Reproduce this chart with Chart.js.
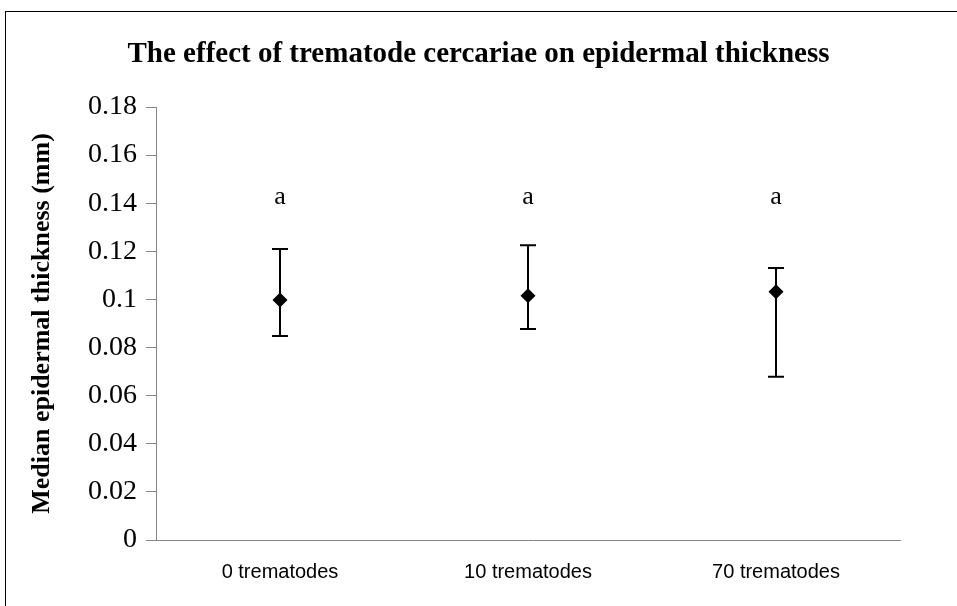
<!DOCTYPE html>
<html>
<head>
<meta charset="utf-8">
<script src="https://cdn.jsdelivr.net/npm/chart.js@4.4.0/dist/chart.umd.min.js"></script>
<style>
  html, body { margin: 0; padding: 0; background: #fff; overflow: hidden; }
  #wrap { position: relative; width: 957px; height: 606px; }
  #frame {
    position: absolute; left: 5px; top: 11px; width: 1000px; height: 700px;
    border: 1px solid #000; pointer-events: none;
  }
</style>
</head>
<body>
<div id="wrap">
  <canvas id="chart" width="957" height="606"></canvas>
  <div id="frame"></div>
</div>
<script>
const categories = ['0 trematodes', '10 trematodes', '70 trematodes'];
const medians = [0.0998, 0.1015, 0.1032];
const errHigh = [0.1210, 0.1225, 0.1131];
const errLow = [0.0848, 0.0877, 0.0679];
const groupLetters = ['a', 'a', 'a'];
const letterLevel = 0.1397;
const yTicks = [0, 0.02, 0.04, 0.06, 0.08, 0.1, 0.12, 0.14, 0.16, 0.18];
const yTitle = 'Median epidermal thickness (mm)';

const axisGray = '#868686';
const serif = '"Liberation Serif", "Times New Roman", serif';

// error bars, significance letters and the y axis title
const errorBars = {
  id: 'errorBars',
  afterDatasetsDraw(chart) {
    const { ctx, chartArea, scales: { x, y } } = chart;
    ctx.save();
    ctx.strokeStyle = '#000';
    ctx.lineWidth = 2;
    medians.forEach((m, i) => {
      const px = x.getPixelForValue(i);
      const top = y.getPixelForValue(errHigh[i]);
      const bot = y.getPixelForValue(errLow[i]);
      ctx.beginPath();
      ctx.moveTo(px, top); ctx.lineTo(px, bot);
      ctx.moveTo(px - 8, top); ctx.lineTo(px + 8, top);
      ctx.moveTo(px - 8, bot); ctx.lineTo(px + 8, bot);
      ctx.stroke();
    });
    ctx.fillStyle = '#000';
    ctx.font = '26px ' + serif;
    ctx.textAlign = 'center';
    ctx.textBaseline = 'alphabetic';
    groupLetters.forEach((t, i) => {
      ctx.fillText(t, x.getPixelForValue(i), y.getPixelForValue(letterLevel));
    });

    ctx.translate(42, (chartArea.top + chartArea.bottom) / 2);
    ctx.rotate(-Math.PI / 2);
    ctx.font = 'bold 26px ' + serif;
    ctx.textBaseline = 'middle';
    ctx.fillText(yTitle, 0, 0);
    ctx.restore();
  }
};

new Chart(document.getElementById('chart').getContext('2d'), {
  type: 'line',
  data: {
    labels: categories,
    datasets: [{
      data: medians,
      showLine: false,
      pointStyle: 'rectRot',
      pointRadius: 7.5,
      pointHoverRadius: 7.5,
      backgroundColor: '#000',
      borderColor: '#000',
      borderWidth: 0
    }]
  },
  options: {
    responsive: false,
    animation: false,
    layout: { padding: { top: 20, right: 57, bottom: 0, left: 57 } },
    plugins: {
      legend: { display: false },
      tooltip: { enabled: false },
      title: {
        display: true,
        text: 'The effect of trematode cercariae on epidermal thickness',
        color: '#000',
        font: { family: serif, size: 29, weight: 'bold' },
        padding: { top: 17.6, bottom: 34.6 }
      }
    },
    scales: {
      x: {
        type: 'category',
        offset: true,
        afterFit: (scale) => { scale.height = 66; },
        grid: { display: false, drawTicks: false },
        border: { color: axisGray, width: 1 },
        ticks: {
          color: '#000',
          padding: 20,
          font: { family: '"Liberation Sans", Arial, sans-serif', size: 20 }
        }
      },
      y: {
        min: 0,
        max: 0.18,
        afterBuildTicks: (scale) => { scale.ticks = yTicks.map(v => ({ value: v })); },
        afterFit: (scale) => { scale.width = 99; },
        grid: { drawOnChartArea: false, drawTicks: true, tickLength: 10, color: axisGray },
        border: { color: axisGray, width: 1 },
        ticks: {
          color: '#000',
          padding: 9,
          font: { family: serif, size: 28 },
          callback: (v) => String(+Number(v).toFixed(2))
        }
      }
    }
  },
  plugins: [errorBars]
});
</script>
</body>
</html>
